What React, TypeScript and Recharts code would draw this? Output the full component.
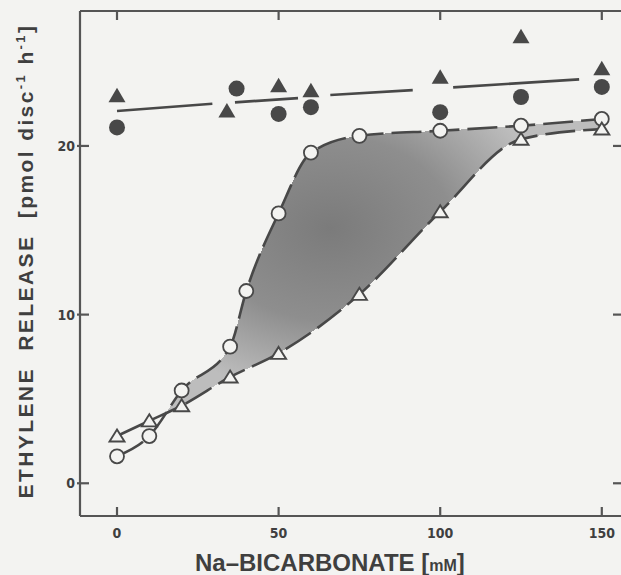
import React from 'react';
import { ComposedChart, XAxis, YAxis, Line, Area, Scatter } from 'recharts';

// ---- data ----
const xTicks = [0, 50, 100, 150];
const yTicks = [0, 10, 20];

const openCircleConc = [0, 10, 20, 35, 40, 50, 60, 75, 100, 125, 150];
const openCircleRelease = [1.6, 2.8, 5.5, 8.1, 11.4, 16.0, 19.6, 20.6, 20.9, 21.2, 21.6];

const openTriangleConc = [0, 10, 20, 35, 50, 75, 100, 125, 150];
const openTriangleRelease = [2.8, 3.7, 4.6, 6.3, 7.7, 11.2, 16.1, 20.4, 21.0];

const filledTriangleConc = [0, 34, 50, 60, 100, 125, 150];
const filledTriangleRelease = [23.0, 22.1, 23.6, 23.3, 24.1, 26.5, 24.6];

const filledCircleConc = [0, 37, 50, 60, 100, 125, 150];
const filledCircleRelease = [21.1, 23.4, 21.9, 22.3, 22.0, 22.9, 23.5];

// regression line through the filled symbols, drawn broken around the markers
const trendSegmentConc = [[0, 29.5], [36.5, 56], [66, 91.5], [104, 143]];
const trendSegmentRelease = [[22.07, 22.5], [22.58, 22.84], [23.02, 23.31], [23.47, 23.95]];

const X_DOMAIN: [number, number] = [-11.45, 156.56];
const Y_DOMAIN: [number, number] = [-1.94, 28.0];

const zip = (xs: number[], ys: number[]) => xs.map((x, i) => ({ x, y: ys[i] }));

const openCircles = zip(openCircleConc, openCircleRelease);
const openTriangles = zip(openTriangleConc, openTriangleRelease);
const filledTriangles = zip(filledTriangleConc, filledTriangleRelease);
const filledCircles = zip(filledCircleConc, filledCircleRelease);
const trendSegments = trendSegmentConc.map((xs, i) => zip(xs, trendSegmentRelease[i]));

// ---- styles ----
const BG = '#f3f3f1';
const INK = '#484848';
const AXIS = '#555555';
const TEXT = '#3f3f3f';
const TICK_FONT = "'Liberation Sans Narrow', 'DejaVu Sans Condensed', 'Liberation Sans', Arial, sans-serif";
const TITLE_FONT = "'Liberation Sans', Arial, Helvetica, sans-serif";

const BottomTick = (p: any) => (
  <g>
    <line x1={p.x} y1={p.y} x2={p.x} y2={p.y - 9} stroke={AXIS} strokeWidth={2.2} />
    <text x={p.x} y={p.y + 22} textAnchor="middle" fontFamily={TICK_FONT} fontWeight="bold" fontSize={14} fill={TEXT}>
      {p.payload.value}
    </text>
  </g>
);
const TopTick = (p: any) => (
  <line x1={p.x} y1={p.y} x2={p.x} y2={p.y + 9} stroke={AXIS} strokeWidth={2.2} />
);
const LeftTick = (p: any) => (
  <g>
    <line x1={p.x - 3} y1={p.y} x2={p.x + 9} y2={p.y} stroke={AXIS} strokeWidth={2.2} />
    <text x={p.x - 5} y={p.y + 5} textAnchor="end" fontFamily={TICK_FONT} fontWeight="bold" fontSize={14} fill={TEXT}>
      {p.payload.value}
    </text>
  </g>
);
const RightTick = (p: any) => (
  <line x1={p.x - 10} y1={p.y} x2={p.x} y2={p.y} stroke={AXIS} strokeWidth={2.2} />
);

const XTitle = () => (
  <text x={195} y={571} textAnchor="start" fontFamily={TITLE_FONT} fontWeight="bold" fontSize={24} fill={TEXT} style={{ whiteSpace: 'pre' }}>
    Na–BICARBONATE [<tspan fontSize={16}>mM</tspan>]
  </text>
);

const YTitle = () => (
  <text
    transform="translate(33,261) rotate(-90)"
    textAnchor="middle"
    fontFamily={TITLE_FONT}
    fontWeight="bold"
    fontSize={21}
    letterSpacing={2.4}
    fill={TEXT}
    style={{ whiteSpace: 'pre' }}
  >
    {'ETHYLENE  RELEASE  [pmol disc'}
    <tspan dy={-8} fontSize={13}>-1</tspan>
    <tspan dy={8}>{' h'}</tspan>
    <tspan dy={-8} fontSize={13}>-1</tspan>
    <tspan dy={8}>]</tspan>
  </text>
);

const OpenCircle = (p: any) => (
  <circle cx={p.cx} cy={p.cy} r={7} fill={BG} stroke={INK} strokeWidth={1.8} />
);
const OpenTriangle = (p: any) => (
  <path
    d={`M${p.cx},${p.cy - 6.5} L${p.cx + 7.5},${p.cy + 5.5} L${p.cx - 7.5},${p.cy + 5.5} Z`}
    fill={BG}
    stroke={INK}
    strokeWidth={1.9}
  />
);
const FilledCircle = (p: any) => <circle cx={p.cx} cy={p.cy} r={8} fill={INK} />;
const FilledTriangle = (p: any) => (
  <path d={`M${p.cx},${p.cy - 7.5} L${p.cx + 8.5},${p.cy + 7} L${p.cx - 8.5},${p.cy + 7} Z`} fill={INK} />
);

export default function App() {
  return (
    <div
      style={{
        position: 'absolute',
        left: 0,
        top: 0,
        width: 621,
        height: 575,
        overflow: 'hidden',
        background: BG,
      }}
    >
      <style>{'.recharts-area-area { shape-rendering: crispEdges; }'}</style>
      <svg width={0} height={0} style={{ position: 'absolute' }}>
        <defs>
          <radialGradient id="shade" cx={0.44} cy={0.3} r={0.46}>
            <stop offset="0%" stopColor="#7b7b7b" />
            <stop offset="55%" stopColor="#8e8e8e" />
            <stop offset="100%" stopColor="#bdbdbd" />
          </radialGradient>
        </defs>
      </svg>
      <ComposedChart width={624} height={575} margin={{ top: 10, right: 0, bottom: 0, left: 0 }}>
        <Area
          xAxisId="bottom"
          yAxisId="left"
          data={openCircles}
          dataKey="y"
          type="monotone"
          baseValue={0}
          stroke="none"
          fill="url(#shade)"
          fillOpacity={1}
          isAnimationActive={false}
          dot={false}
          activeDot={false}
        />
        <Area
          xAxisId="bottom"
          yAxisId="left"
          data={openTriangles}
          dataKey="y"
          type="monotone"
          baseValue={0}
          stroke="none"
          fill={BG}
          fillOpacity={1}
          isAnimationActive={false}
          dot={false}
          activeDot={false}
        />
        <XAxis
          xAxisId="bottom"
          orientation="bottom"
          dataKey="x"
          type="number"
          domain={X_DOMAIN}
          ticks={xTicks}
          interval={0}
          allowDataOverflow
          height={59}
          tickSize={0}
          tickMargin={0}
          tickLine={false}
          axisLine={{ stroke: AXIS, strokeWidth: 2.2 }}
          tick={(p: any) => <BottomTick {...p} />}
          label={{ content: XTitle }}
        />
        <XAxis
          xAxisId="top"
          orientation="top"
          dataKey="x"
          type="number"
          domain={X_DOMAIN}
          ticks={xTicks}
          interval={0}
          allowDataOverflow
          height={1}
          tickSize={0}
          tickMargin={0}
          tickLine={false}
          axisLine={{ stroke: AXIS, strokeWidth: 2.2 }}
          tick={(p: any) => <TopTick {...p} />}
        />
        <YAxis
          yAxisId="left"
          orientation="left"
          dataKey="y"
          type="number"
          domain={Y_DOMAIN}
          ticks={yTicks}
          interval={0}
          allowDataOverflow
          width={80}
          tickSize={0}
          tickMargin={0}
          tickLine={false}
          axisLine={{ stroke: AXIS, strokeWidth: 2.2 }}
          tick={(p: any) => <LeftTick {...p} />}
          label={{ content: YTitle }}
        />
        <YAxis
          yAxisId="right"
          orientation="right"
          type="number"
          domain={Y_DOMAIN}
          ticks={yTicks}
          interval={0}
          allowDataOverflow
          width={1}
          tickSize={0}
          tickMargin={0}
          tickLine={false}
          axisLine={{ stroke: AXIS, strokeWidth: 2.2 }}
          tick={(p: any) => <RightTick {...p} />}
        />
        {trendSegments.map((seg, i) => (
          <Line
            key={`trend-${i}`}
            xAxisId="bottom"
            yAxisId="left"
            data={seg}
            dataKey="y"
            type="linear"
            stroke={INK}
            strokeWidth={2.7}
            dot={false}
            activeDot={false}
            isAnimationActive={false}
          />
        ))}
        <Line
          xAxisId="bottom"
          yAxisId="left"
          data={openCircles}
          dataKey="y"
          type="monotone"
          stroke={INK}
          strokeWidth={2.6}
          strokeDasharray="30 8"
          dot={false}
          activeDot={false}
          isAnimationActive={false}
        />
        <Line
          xAxisId="bottom"
          yAxisId="left"
          data={openTriangles}
          dataKey="y"
          type="monotone"
          stroke={INK}
          strokeWidth={2.6}
          strokeDasharray="30 8"
          dot={false}
          activeDot={false}
          isAnimationActive={false}
        />
        <Scatter xAxisId="bottom" yAxisId="left" data={openCircles} dataKey="y" shape={OpenCircle} isAnimationActive={false} />
        <Scatter xAxisId="bottom" yAxisId="left" data={openTriangles} dataKey="y" shape={OpenTriangle} isAnimationActive={false} />
        <Scatter xAxisId="bottom" yAxisId="left" data={filledCircles} dataKey="y" shape={FilledCircle} isAnimationActive={false} />
        <Scatter xAxisId="bottom" yAxisId="left" data={filledTriangles} dataKey="y" shape={FilledTriangle} isAnimationActive={false} />
      </ComposedChart>
    </div>
  );
}
